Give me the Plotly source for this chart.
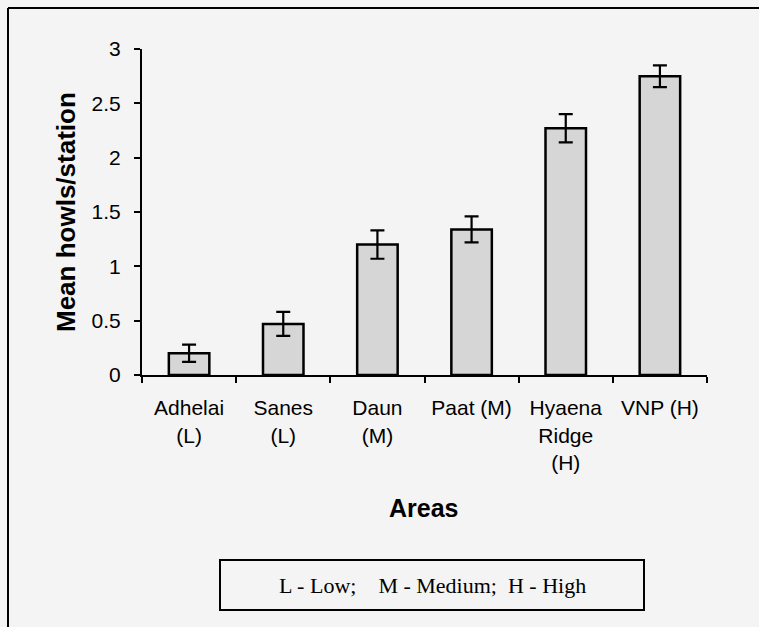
import plotly.graph_objects as go

# Survey areas (L/M/H = low/medium/high) and mean howls per station with error
areas = ["Adhelai<br>(L)", "Sanes<br>(L)", "Daun<br>(M)", "Paat (M)",
         "Hyaena<br>Ridge<br>(H)", "VNP (H)"]
mean_howls = [0.20, 0.47, 1.20, 1.34, 2.27, 2.75]
errors = [0.08, 0.11, 0.13, 0.12, 0.13, 0.10]
y_ticks = [0, 0.5, 1, 1.5, 2, 2.5, 3]
y_tick_text = ["0", "0.5", "1", "1.5", "2", "2.5", "3"]

W_PX, H_PX = 759, 627
M_L, M_R, M_T, M_B = 142, 52, 49, 252
PW = W_PX - M_L - M_R
PH = H_PX - M_T - M_B


def fx(px):
    return (px - M_L) / PW


def fy(py):
    return (H_PX - M_B - py) / PH


fig = go.Figure()
fig.add_trace(go.Bar(
    x=areas, y=mean_howls,
    width=0.43,
    marker=dict(color="#d6d6d6", line=dict(color="black", width=2.5)),
    error_y=dict(type="data", array=errors, color="black",
                 thickness=2.2, width=7),
))

fig.update_layout(
    width=W_PX, height=H_PX,
    margin=dict(l=M_L, r=M_R, t=M_T, b=M_B),
    paper_bgcolor="#f4f4f4", plot_bgcolor="#f4f4f4",
    showlegend=False,
    font=dict(family="Liberation Sans, Arial, sans-serif", color="black"),
    xaxis=dict(
        showline=True, linecolor="black", linewidth=2,
        ticks="outside", tickson="boundaries", ticklen=6, tickwidth=2,
        tickcolor="black", tickfont=dict(size=21), ticklabelstandoff=13,
        tickangle=0, showgrid=False, zeroline=False,
    ),
    yaxis=dict(
        range=[0, 3], tickvals=y_ticks, ticktext=y_tick_text,
        showline=True, linecolor="black", linewidth=2,
        ticks="outside", ticklen=6, tickwidth=2, tickcolor="black",
        tickfont=dict(size=21), ticklabelstandoff=9,
        showgrid=False, zeroline=False,
    ),
    annotations=[
        dict(text="<b>Mean howls/station</b>", textangle=-90,
             x=fx(66), y=fy(212), xref="paper", yref="paper",
             xanchor="center", yanchor="middle",
             showarrow=False, font=dict(size=26)),
        dict(text="<b>Areas</b>", x=fx(424), y=fy(508),
             xref="paper", yref="paper", xanchor="center", yanchor="middle",
             showarrow=False, font=dict(size=25)),
        dict(text="L - Low;&nbsp;&nbsp;&nbsp; M - Medium;&nbsp; H - High",
             x=fx(432), y=fy(585), xref="paper", yref="paper",
             xanchor="center", yanchor="middle", showarrow=False,
             font=dict(size=22, family="Liberation Serif, Times New Roman, serif")),
    ],
    shapes=[
        # outer frame: top and left edges
        dict(type="line", xref="paper", yref="paper",
             x0=fx(8), x1=fx(759), y0=fy(8), y1=fy(8),
             line=dict(color="black", width=2)),
        dict(type="line", xref="paper", yref="paper",
             x0=fx(8), x1=fx(8), y0=fy(8), y1=fy(627),
             line=dict(color="black", width=2)),
        # key box under the axis title
        dict(type="rect", xref="paper", yref="paper",
             x0=fx(220), x1=fx(644), y0=fy(610), y1=fy(560),
             line=dict(color="black", width=2)),
    ],
)

fig.write_html("out.html")
